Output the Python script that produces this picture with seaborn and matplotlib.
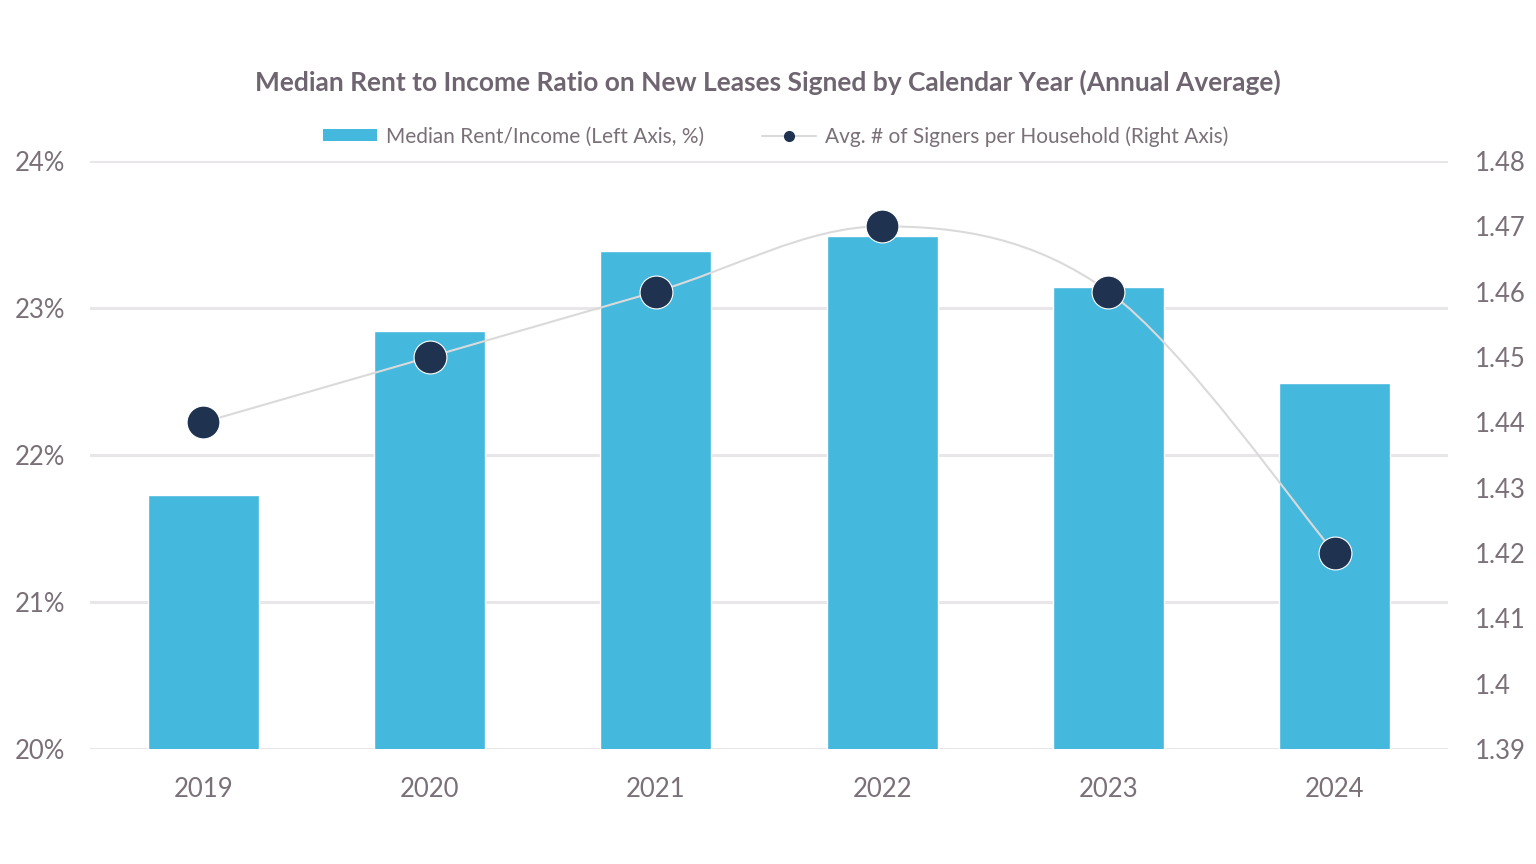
import numpy as np
import pandas as pd
import matplotlib
matplotlib.use("Agg")
import matplotlib.pyplot as plt
from matplotlib.path import Path
from matplotlib.patches import PathPatch, Patch
from matplotlib.lines import Line2D
import seaborn as sns

years = ["2019", "2020", "2021", "2022", "2023", "2024"]
rent_income = [21.73, 22.84, 23.39, 23.49, 23.14, 22.49]
signers = [1.44, 1.45, 1.46, 1.47, 1.46, 1.42]

bar_color = "#45B8DE"
dot_color = "#1F3350"
text_color = "#7A7078"
title_color = "#6E6570"
grid_color = "#E8E6E8"

sns.set_theme(style="white")
plt.rcParams["font.family"] = ["Lato", "DejaVu Sans"]

df = pd.DataFrame({"Year": years, "Rent": rent_income, "Signers": signers})

fig = plt.figure(figsize=(15.36, 8.64), dpi=100)
ax = fig.add_axes([0.0586, 0.1331, 0.8841, 0.6806])

sns.barplot(data=df, x="Year", y="Rent", color=bar_color, width=0.49,
            saturation=1, ax=ax, zorder=2)
ax.set_ylim(20, 24)
ax.set_xlim(-0.5, 5.5)
ax.set_yticks([20, 21, 22, 23, 24])
ax.set_yticklabels([f"{t}%" for t in [20, 21, 22, 23, 24]])
ax.yaxis.grid(True, color=grid_color, linewidth=2.2, zorder=0)
ax.set_axisbelow(True)
ax.set_xlabel("")
ax.set_ylabel("")
for s in ax.spines.values():
    s.set_visible(False)
ax.tick_params(axis="both", colors=text_color, labelsize=18.5, length=0)
ax.tick_params(axis="y", pad=18)
ax.tick_params(axis="x", pad=20)

ax2 = ax.twinx()
ax2.set_ylim(1.39, 1.48)
ax2.set_yticks([1.39, 1.40, 1.41, 1.42, 1.43, 1.44, 1.45, 1.46, 1.47, 1.48])
ax2.set_yticklabels(["1.39", "1.4", "1.41", "1.42", "1.43", "1.44",
                     "1.45", "1.46", "1.47", "1.48"])
for s in ax2.spines.values():
    s.set_visible(False)
ax2.tick_params(axis="y", colors=text_color, labelsize=18.5, length=0, pad=19)
ax2.grid(False)

# smoothed connecting line (Catmull-Rom as cubic Bezier segments)
xs = np.arange(len(signers), dtype=float)
ys = np.array(signers)
verts = [(xs[0], ys[0])]
codes = [Path.MOVETO]
n = len(xs)
for i in range(n - 1):
    p0 = (xs[max(i - 1, 0)], ys[max(i - 1, 0)])
    p1 = (xs[i], ys[i])
    p2 = (xs[i + 1], ys[i + 1])
    p3 = (xs[min(i + 2, n - 1)], ys[min(i + 2, n - 1)])
    c1 = (p1[0] + (p2[0] - p0[0]) / 6, p1[1] + (p2[1] - p0[1]) / 6)
    c2 = (p2[0] - (p3[0] - p1[0]) / 6, p2[1] - (p3[1] - p1[1]) / 6)
    verts += [c1, c2, p2]
    codes += [Path.CURVE4] * 3
ax2.add_patch(PathPatch(Path(verts, codes), facecolor="none",
                        edgecolor="#DADADA", linewidth=1.5, zorder=3))

sns.scatterplot(data=df, x="Year", y="Signers", ax=ax2, s=560,
                color=dot_color, edgecolor="white", linewidth=0.8, zorder=4)
ax2.set_xlabel("")
ax2.set_ylabel("")
ax2.set_xlim(-0.5, 5.5)

fig.text(0.5, 0.905, "Median Rent to Income Ratio on New Leases Signed by Calendar Year (Annual Average)",
         ha="center", va="center", fontsize=19, fontweight="bold", color=title_color)

handles = [
    Patch(facecolor=bar_color, edgecolor="none", label="Median Rent/Income (Left Axis, %)"),
    Line2D([0], [0], color="#DADADA", linewidth=1.5, marker="o", markersize=7,
           markerfacecolor=dot_color, markeredgecolor=dot_color,
           label="Avg. # of Signers per Household (Right Axis)"),
]
fig.legend(handles=handles, loc="center", bbox_to_anchor=(0.505, 0.842), ncol=2,
           frameon=False, fontsize=15, labelcolor=text_color, handlelength=2.6,
           handleheight=0.5, columnspacing=2.8, handletextpad=0.4)

fig.savefig("out.png", dpi=100)
